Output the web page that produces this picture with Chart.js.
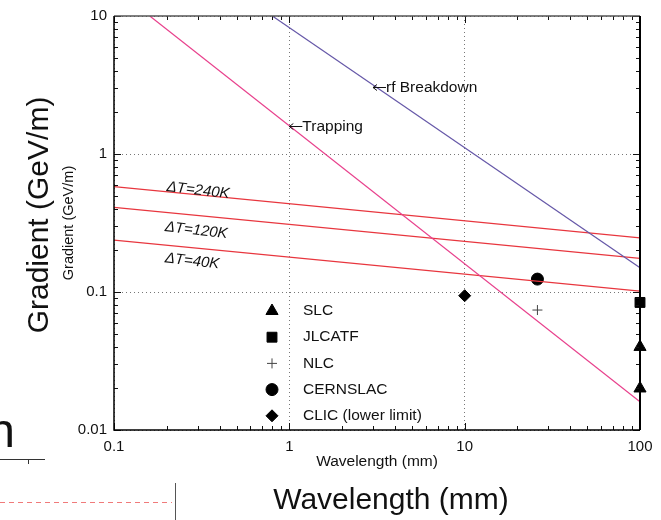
<!DOCTYPE html>
<html lang="en">
<head>
  <meta charset="UTF-8" />
  <title>Gradient vs Wavelength</title>
  <script src="https://cdn.jsdelivr.net/npm/chart.js"></script>
  <style>
    body { margin: 0; background: #ffffff; }
    canvas { display: block; }
  </style>
</head>
<body>
  <canvas id="gradChart" width="661" height="520"></canvas>

  <script>
    // axis ticks (decades)
    const xTicks = [0.1, 1, 10, 100];
    const yTicks = [0.01, 0.1, 1, 10];

    // limit lines (end points in mm, GeV/m)
    const trappingLine = [{ x: 0.16, y: 10 }, { x: 100, y: 0.016 }];
    const breakdownLine = [{ x: 0.8, y: 10 }, { x: 100, y: 0.15 }];
    const dT240Line = [{ x: 0.1, y: 0.58 }, { x: 100, y: 0.247 }];
    const dT120Line = [{ x: 0.1, y: 0.41 }, { x: 100, y: 0.175 }];
    const dT40Line = [{ x: 0.1, y: 0.238 }, { x: 100, y: 0.1016 }];

    // machines
    const slcPoints = [{ x: 100, y: 0.040 }, { x: 100, y: 0.020 }];
    const jlcPoints = [{ x: 100, y: 0.084 }];
    const nlcPoints = [{ x: 26, y: 0.074 }];
    const cernPoints = [{ x: 26, y: 0.124 }];
    const clicPoints = [{ x: 10, y: 0.094 }];

    // text labels placed at data positions (arrow tip at x,y)
    const curveLabels = [
      { text: 'rf Breakdown', x: 3.0, y: 3.06 },
      { text: 'Trapping', x: 1.0, y: 1.6 }
    ];
    const dTLabels = [
      { text: '\u0394T=240K', x: 0.2, y: 0.577 },
      { text: '\u0394T=120K', x: 0.195, y: 0.296 },
      { text: '\u0394T=40K', x: 0.195, y: 0.176 }
    ];

    const RED = '#e8363e';
    const PINK = '#e8408c';
    const PURPLE = '#6658a8';
    const FONT = "'Liberation Sans', Arial, sans-serif";

    function lineSet(label, data, color) {
      return { label: label, data: data, showLine: true, borderColor: color, borderWidth: 1.2,
               pointRadius: 0, fill: false, isLine: true };
    }
    function markSet(label, data, style, radius, color) {
      return { label: label, data: data, showLine: false, pointStyle: style, pointRadius: radius,
               backgroundColor: color, borderColor: color, borderWidth: 1, clip: false, isLine: false };
    }

    const frameAndTicks = {
      id: 'frameAndTicks',
      afterDatasetsDraw(chart) {
        const ctx = chart.ctx;
        const a = chart.chartArea;
        const xs = chart.scales.x, ys = chart.scales.y;
        ctx.save();
        ctx.strokeStyle = '#111';
        ctx.lineWidth = 1;
        ctx.beginPath();
        for (let i = 0; i < xTicks.length; i++) {
          for (let m = 1; m <= 9; m++) {
            const v = xTicks[i] * m;
            if (v > xTicks[xTicks.length - 1]) break;
            const px = Math.round(xs.getPixelForValue(v)) + 0.5;
            const len = m === 1 ? 7 : 4;
            ctx.moveTo(px, a.bottom); ctx.lineTo(px, a.bottom - len);
            ctx.moveTo(px, a.top); ctx.lineTo(px, a.top + len);
          }
        }
        for (let i = 0; i < yTicks.length; i++) {
          for (let m = 1; m <= 9; m++) {
            const v = yTicks[i] * m;
            if (v > yTicks[yTicks.length - 1]) break;
            const py = Math.round(ys.getPixelForValue(v)) + 0.5;
            const len = m === 1 ? 7 : 4;
            ctx.moveTo(a.left, py); ctx.lineTo(a.left + len, py);
            ctx.moveTo(a.right, py); ctx.lineTo(a.right - len, py);
          }
        }
        ctx.stroke();
        // box
        ctx.lineWidth = 1.5;
        ctx.strokeStyle = '#555';
        ctx.beginPath(); ctx.moveTo(a.left, a.top); ctx.lineTo(a.right, a.top); ctx.stroke();
        ctx.strokeStyle = '#000';
        ctx.beginPath();
        ctx.moveTo(a.left, a.top); ctx.lineTo(a.left, a.bottom); ctx.lineTo(a.right, a.bottom);
        ctx.stroke();
        ctx.lineWidth = 2;
        ctx.beginPath(); ctx.moveTo(a.right, a.top); ctx.lineTo(a.right, a.bottom); ctx.stroke();
        ctx.restore();
      }
    };

    const textAndLegend = {
      id: 'textAndLegend',
      afterDraw(chart) {
        const ctx = chart.ctx;
        const xs = chart.scales.x, ys = chart.scales.y;
        ctx.save();
        ctx.fillStyle = '#111';
        ctx.strokeStyle = '#111';
        ctx.textBaseline = 'middle';

        // curve annotations with a small left arrow
        ctx.font = '15.5px ' + FONT;
        ctx.textAlign = 'left';
        ctx.lineWidth = 1;
        curveLabels.forEach(l => {
          const px = xs.getPixelForValue(l.x), py = Math.round(ys.getPixelForValue(l.y)) + 0.5;
          ctx.beginPath();
          ctx.moveTo(px, py); ctx.lineTo(px + 13, py);
          ctx.moveTo(px + 4, py - 3); ctx.lineTo(px, py); ctx.lineTo(px + 4, py + 3);
          ctx.stroke();
          ctx.fillText(l.text, px + 13, py);
        });

        // delta T labels, italic and tilted along the lines
        ctx.font = 'italic 15px ' + FONT;
        dTLabels.forEach(l => {
          ctx.save();
          ctx.translate(xs.getPixelForValue(l.x), ys.getPixelForValue(l.y));
          ctx.rotate(6.5 * Math.PI / 180);
          ctx.fillText(l.text, 0, 0);
          ctx.restore();
        });

        // legend for the machine markers
        const lx = 272, ly0 = 311, step = 26.2;
        let row = 0;
        ctx.font = '15.5px ' + FONT;
        chart.data.datasets.forEach(ds => {
          if (ds.isLine) return;
          const y = ly0 + row * step;
          ctx.fillStyle = ds.backgroundColor;
          ctx.strokeStyle = ds.borderColor;
          ctx.lineWidth = ds.borderWidth;
          Chart.helpers.drawPoint(ctx, { pointStyle: ds.pointStyle, radius: ds.pointRadius, rotation: 0, borderWidth: ds.borderWidth }, lx, y);
          ctx.fillStyle = '#111';
          ctx.fillText(ds.label, 303, y);
          row++;
        });

        // slide text around the figure
        ctx.fillStyle = '#111';
        ctx.font = '30px ' + FONT;
        ctx.textAlign = 'center';
        ctx.fillText('Wavelength (mm)', 391, 501);
        ctx.save();
        ctx.translate(40, 215);
        ctx.rotate(-Math.PI / 2);
        ctx.fillText('Gradient (GeV/m)', 0, 0);
        ctx.restore();

        ctx.font = '48px ' + FONT;
        ctx.textAlign = 'right';
        ctx.textBaseline = 'alphabetic';
        ctx.fillText('n', 15, 447);

        ctx.strokeStyle = '#333';
        ctx.lineWidth = 1;
        ctx.beginPath();
        ctx.moveTo(0, 459.5); ctx.lineTo(45, 459.5);
        ctx.moveTo(28.5, 459.5); ctx.lineTo(28.5, 464);
        ctx.stroke();

        ctx.strokeStyle = '#f07a7a';
        ctx.setLineDash([5, 4]);
        ctx.beginPath(); ctx.moveTo(0, 502.5); ctx.lineTo(172, 502.5); ctx.stroke();
        ctx.setLineDash([]);
        ctx.strokeStyle = '#555';
        ctx.beginPath(); ctx.moveTo(175.5, 483); ctx.lineTo(175.5, 520); ctx.stroke();
        ctx.restore();
      }
    };

    const ctx = document.getElementById('gradChart').getContext('2d');
    const gradChart = new Chart(ctx, {
      type: 'scatter',
      data: {
        datasets: [
          lineSet('Trapping', trappingLine, PINK),
          lineSet('rf Breakdown', breakdownLine, PURPLE),
          lineSet('\u0394T=240K', dT240Line, RED),
          lineSet('\u0394T=120K', dT120Line, RED),
          lineSet('\u0394T=40K', dT40Line, RED),
          markSet('SLC', slcPoints, 'triangle', 7, '#000'),
          markSet('JLCATF', jlcPoints, 'rect', 7, '#000'),
          markSet('NLC', nlcPoints, 'cross', 5, '#444'),
          markSet('CERNSLAC', cernPoints, 'circle', 6, '#000'),
          markSet('CLIC (lower limit)', clicPoints, 'rectRot', 6, '#000')
        ]
      },
      options: {
        responsive: false,
        animation: false,
        layout: { padding: { left: 56, top: 16, right: 21, bottom: 45 } },
        plugins: { legend: { display: false }, tooltip: { enabled: false } },
        scales: {
          x: {
            type: 'logarithmic',
            min: 0.1, max: 100,
            afterBuildTicks: s => { s.ticks = xTicks.map(v => ({ value: v })); },
            afterFit: s => { s.height = 45; },
            grid: { color: '#777', lineWidth: 1, drawTicks: false },
            border: { display: false, dash: [1, 3] },
            ticks: { padding: 8, color: '#111', font: { family: FONT, size: 15 }, maxRotation: 0,
                     callback: v => String(v) },
            title: { display: true, text: 'Wavelength (mm)', color: '#111', font: { family: FONT, size: 15.5 } }
          },
          y: {
            type: 'logarithmic',
            min: 0.01, max: 10,
            afterBuildTicks: s => { s.ticks = yTicks.map(v => ({ value: v })); },
            afterFit: s => { s.width = 58; },
            grid: { color: '#777', lineWidth: 1, drawTicks: false },
            border: { display: false, dash: [1, 3] },
            ticks: { padding: 7, color: '#111', font: { family: FONT, size: 15 },
                     callback: v => String(v) },
            title: { display: true, text: 'Gradient (GeV/m)', color: '#111', font: { family: FONT, size: 14.5 } }
          }
        }
      },
      plugins: [frameAndTicks, textAndLegend]
    });
  </script>
</body>
</html>
